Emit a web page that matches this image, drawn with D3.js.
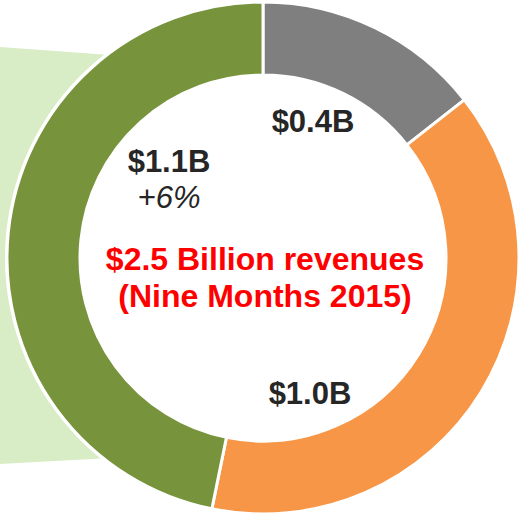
<!DOCTYPE html>
<html>
<head>
<meta charset="utf-8">
<script src="https://cdn.jsdelivr.net/npm/d3@7"></script>
<style>
  body { margin: 0; background: white; }
  text { font-family: 'Liberation Sans', Arial, sans-serif; }
</style>
</head>
<body>
<div id="chart"></div>
<script>
// Revenue split, nine months 2015 (billions)
var segments = ['Other', 'Orange segment', 'Green segment'];
var values = [0.36, 0.97, 1.17];
var colors = ['#7f7f7f', '#f79646', '#77933c'];
var valueLabels = ['$0.4B', '$1.0B', '$1.1B'];
var growthLabels = ['', '', '+6%'];
var titleLines = ['$2.5 Billion revenues', '(Nine Months 2015)'];

var width = 519;
var height = 514;
var cx = 263, cy = 258;
var outerR = 256, innerR = 183;

var svg = d3.select('#chart')
  .append('svg')
  .attr('width', width)
  .attr('height', height);

// light green callout band behind the donut
svg.append('path')
  .attr('d', 'M0,47 L110,55 L110,458 L0,464 Z')
  .attr('fill', '#d8edc5');

var main = svg.append('g')
  .attr('transform', 'translate(' + cx + ',' + cy + ')');

// white ring around the donut
main.append('circle')
  .attr('r', outerR + 2)
  .attr('fill', 'white');

var pie = d3.pie().sort(null).value(function(d) { return d; });
var arc = d3.arc().innerRadius(innerR).outerRadius(outerR);

main.selectAll('path.slice')
  .data(pie(values))
  .enter().append('path')
  .attr('class', 'slice')
  .attr('d', arc)
  .attr('fill', function(d, i) { return colors[i]; })
  .attr('stroke', 'white')
  .attr('stroke-width', 3);

// value labels inside the hole
var labelPos = [[50, -126], [47, 146], [-94, -86]];
main.selectAll('text.value')
  .data(valueLabels)
  .enter().append('text')
  .attr('class', 'value')
  .attr('x', function(d, i) { return labelPos[i][0]; })
  .attr('y', function(d, i) { return labelPos[i][1]; })
  .attr('text-anchor', 'middle')
  .attr('font-size', 31)
  .attr('font-weight', 'bold')
  .attr('fill', '#262626')
  .text(function(d) { return d; });

main.selectAll('text.growth')
  .data(growthLabels)
  .enter().append('text')
  .attr('class', 'growth')
  .attr('x', function(d, i) { return labelPos[i][0]; })
  .attr('y', function(d, i) { return labelPos[i][1] + 36; })
  .attr('text-anchor', 'middle')
  .attr('font-size', 31)
  .attr('font-style', 'italic')
  .attr('fill', '#262626')
  .text(function(d) { return d; });

// title in the centre
main.selectAll('text.title')
  .data(titleLines)
  .enter().append('text')
  .attr('class', 'title')
  .attr('x', 2)
  .attr('y', function(d, i) { return 12 + i * 37; })
  .attr('text-anchor', 'middle')
  .attr('font-size', 32)
  .attr('font-weight', 'bold')
  .attr('fill', '#ff0000')
  .text(function(d) { return d; });
</script>
</body>
</html>
